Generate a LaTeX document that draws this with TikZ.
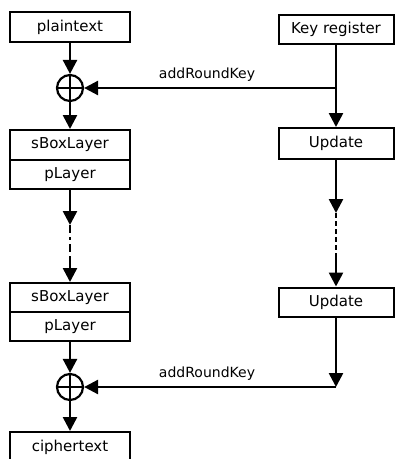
\documentclass[tikz,border=0pt]{standalone}
\usepackage{fontspec}
\setmainfont{DejaVu Sans}
\usetikzlibrary{arrows.meta}
\begin{document}
\begin{tikzpicture}[x=1pt,y=-1pt,
  box/.style={draw,line width=2pt,minimum width=120pt,minimum height=30pt,inner sep=0pt,font=\fontsize{15}{17}\selectfont},
  kbox/.style={box,minimum width=115pt},
  xorc/.style={draw,circle,line width=2.2pt,minimum size=26pt,inner sep=0pt},
  conn/.style={line width=2.6pt},
  arr/.style={conn,-{Triangle[length=14pt,width=14pt]}},
  dd/.style={line width=2.6pt,dash pattern=on 8pt off 4pt on 3pt off 4pt},
  dr/.style={line width=2.6pt,dash pattern=on 5pt off 3pt},
  lbl/.style={font=\fontsize{14}{16}\selectfont,inner sep=0pt}]
\useasboundingbox (0,0) rectangle (398,459);
% left column
\node[box] (pt) at (70,27) {plaintext};
\node[xorc] (x1) at (70,88) {};
\draw[line width=2.2pt] (x1.north) -- (x1.south) (x1.west) -- (x1.east);
\node[box,minimum height=30pt] (sb1) at (70,145) {sBoxLayer};
\node[box,minimum height=29pt] (pl1) at (70,174.5) {pLayer};
\coordinate (d1a) at (70,225);
\coordinate (d1b) at (70,258);
\node[box,minimum height=29pt] (sb2) at (70,297.5) {sBoxLayer};
\node[box,minimum height=29pt] (pl2) at (70,326.5) {pLayer};
\node[xorc] (x2) at (70,387) {};
\draw[line width=2.2pt] (x2.north) -- (x2.south) (x2.west) -- (x2.east);
\node[box] (ct) at (70,447) {ciphertext};
% right column
\node[kbox,minimum height=29pt] (kr) at (336,29.5) {Key register};
\coordinate (j1) at (336,88);
\node[kbox,minimum height=31pt] (up1) at (336,143.5) {Update};
\coordinate (d2a) at (336,213);
\coordinate (d2b) at (336,255);
\node[kbox,minimum height=29pt] (up2) at (336,302) {Update};
\coordinate (j2) at (336,387);
% connectors
\draw[arr] (pt.south) -- (x1.north);
\draw[arr] (x1.south) -- (sb1.north);
\draw[arr] (pl1.south) -- (d1a);
\draw[dd] (d1a) -- (d1b);
\draw[arr] (d1b) -- (sb2.north);
\draw[arr] (pl2.south) -- (x2.north);
\draw[arr] (x2.south) -- (ct.north);
\draw[arr] (kr.south) -- (j1) -- (up1.north);
\draw[arr] (j1) -- (x1.east);
\draw[arr] (up1.south) -- (d2a);
\draw[dr] (d2a) -- (d2b);
\draw[arr] (d2b) -- (up2.north);
\draw[arr] (up2.south) -- (j2);
\draw[arr] (j2) -- (x2.east);
\node[lbl] (k1) at (207,75) {addRoundKey};
\node[lbl] (k2) at (207,374) {addRoundKey};
\end{tikzpicture}
\end{document}
